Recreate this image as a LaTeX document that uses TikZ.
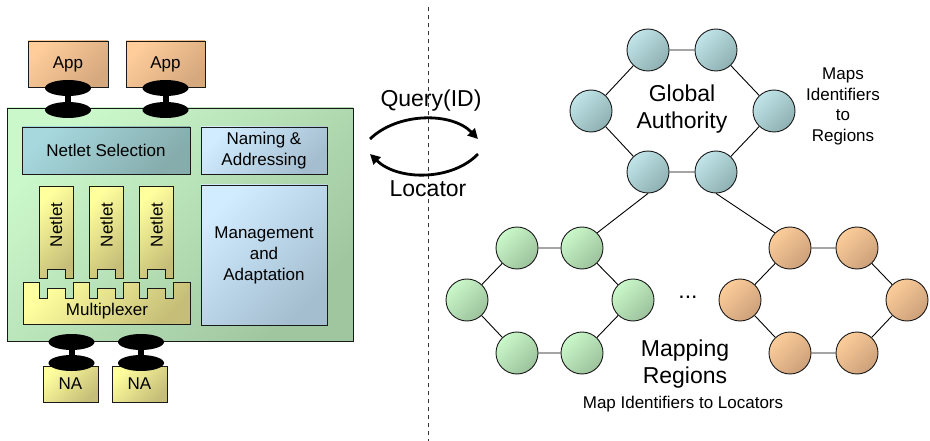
\documentclass[tikz,border=0pt]{standalone}
\usepackage{fontspec}
\setmainfont{Liberation Sans}
\usetikzlibrary{arrows.meta}

\newcommand\fsmall{\fontsize{17}{21}\selectfont}
\newcommand\fmaps{\fontsize{17}{20.7}\selectfont}
\newcommand\fbig{\fontsize{23}{27}\selectfont}

% gradient fills (light top-left, dark bottom-right)
\definecolor{appA}{HTML}{FECD9A}\definecolor{appB}{HTML}{D6A87E}
\definecolor{grnA}{HTML}{CBF8CB}\definecolor{grnB}{HTML}{A0C6A0}
\definecolor{selA}{HTML}{A6D8DE}\definecolor{selB}{HTML}{86ACAC}
\definecolor{bluA}{HTML}{D0ECFE}\definecolor{bluB}{HTML}{A4BED0}
\definecolor{yelA}{HTML}{FFFF9E}\definecolor{yelB}{HTML}{C6BE78}
\definecolor{gaA}{HTML}{C0E4E8}\definecolor{gaB}{HTML}{8EB0B2}
\definecolor{gcA}{HTML}{CAF8CA}\definecolor{gcB}{HTML}{9CC29C}
\definecolor{ocA}{HTML}{FCCD9A}\definecolor{ocB}{HTML}{CCA07A}

\begin{document}
\begin{tikzpicture}[x=1pt,y=-1pt,
  grad/.style 2 args={draw=black!90,line width=0.9pt,
    top color=#1,bottom color=#2,shading angle=45},
  box/.style 2 args={grad={#1}{#2},rectangle,inner sep=0pt,
    align=center,font=\fsmall},
  ring/.style 2 args={grad={#1}{#2},circle,minimum size=42pt,inner sep=0pt},
  link/.style={draw=black,line width=0.9pt},
  flow/.style={line width=2.8pt,-{Triangle[length=10pt,width=10pt]}},
  lbl/.style={align=center,inner sep=0pt},
]
\useasboundingbox (0,0) rectangle (930,441);

% ---------------- node architecture (left) ----------------
\node[box={appA}{appB},minimum width=80pt,minimum height=46pt] (app1) at (68,64) {App};
\node[box={appA}{appB},minimum width=79pt,minimum height=46pt] (app2) at (165.5,64) {App};

\node[box={grnA}{grnB},minimum width=346pt,minimum height=233pt] (node) at (180,224.5) {};

\node[box={selA}{selB},minimum width=168pt,minimum height=47pt] (sel) at (106,150.5) {Netlet Selection};
\node[box={bluA}{bluB},minimum width=126pt,minimum height=47pt] (naming) at (264,150.5) {Naming \&\\Addressing};
\node[box={bluA}{bluB},minimum width=126pt,minimum height=140pt] (mgmt) at (264,255) {Management\\and\\Adaptation};

% netlets with a notch at the bottom
\foreach \L/\n in {39/1,89.5/2,139.5/3}{
  \path[grad={yelA}{yelB}] (\L,186) -- (\L+34,186) -- (\L+34,278) -- (\L+26,278)
    -- (\L+26,269) -- (\L+8,269) -- (\L+8,278) -- (\L,278) -- cycle;
  \node[lbl,rotate=90,font=\fsmall] (netlet\n) at (\L+17,225) {Netlet};
}

% multiplexer with one socket per netlet
\path[grad={yelA}{yelB}] (23,282)
  \foreach \L in {39,89.5,139.5}{
    -- (\L,282) -- (\L,298) -- (\L+8,298) -- (\L+8,288) -- (\L+26,288)
    -- (\L+26,298) -- (\L+34,298) -- (\L+34,282) }
  -- (190,282) -- (190,324) -- (23,324) -- cycle;
\node[lbl,font=\fsmall] (mux) at (107,311) {Multiplexer};

\node[box={yelA}{yelB},minimum width=55pt,minimum height=36pt] (na1) at (70.5,384) {NA};
\node[box={yelA}{yelB},minimum width=55pt,minimum height=36pt] (na2) at (139.5,384) {NA};

% plugs between the layers
\foreach \cx/\ya/\yb in {68/88/110,165.5/88/110,71.5/342/363,141/342/363}{
  \fill[black] (\cx-3,\ya) rectangle (\cx+3,\yb);
  \fill[black] (\cx,\ya) ellipse [x radius=23pt,y radius=8pt];
  \fill[black] (\cx,\yb) ellipse [x radius=23pt,y radius=8pt];
}

% ---------------- separator and query exchange ----------------
\coordinate (sepT) at (428,7);
\coordinate (sepB) at (428,441);
\draw[black!80,line width=0.9pt,dash pattern=on 4pt off 4pt] (sepT) -- (sepB);

\coordinate (qL) at (370,139);
\coordinate (qR) at (478,139);
\coordinate (lR) at (478,154);
\coordinate (lL) at (370,154);
\draw[flow] (qL) .. controls (398,112) and (452,112) .. (qR);
\draw[flow] (lR) .. controls (452,181) and (398,181) .. (lL);
\node[lbl,font=\fbig] (query) at (431,101) {Query(ID)};
\node[lbl,font=\fbig] (locator) at (428,189) {Locator};

% ---------------- global authority ring ----------------
\node[ring={gaA}{gaB}] (gatl) at (648,50) {};
\node[ring={gaA}{gaB}] (gatr) at (716,50) {};
\node[ring={gaA}{gaB}] (gal)  at (591,111) {};
\node[ring={gaA}{gaB}] (gar)  at (774,111) {};
\node[ring={gaA}{gaB}] (gabl) at (648,172) {};
\node[ring={gaA}{gaB}] (gabr) at (716,172) {};
\draw[link] (gatl) -- (gatr) -- (gar) -- (gabr) -- (gabl) -- (gal) -- (gatl);
\node[lbl,font=\fbig] (gatext) at (682,109) {Global\\Authority};
\node[lbl,font=\fmaps] (gamaps) at (843,106.5) {Maps\\Identifiers\\to\\Regions};

% ---------------- mapping regions ----------------
\node[ring={gcA}{gcB}] (gtl) at (517,248) {};
\node[ring={gcA}{gcB}] (gtr) at (582,248) {};
\node[ring={gcA}{gcB}] (gl)  at (467,300) {};
\node[ring={gcA}{gcB}] (gr)  at (633,300) {};
\node[ring={gcA}{gcB}] (gbl) at (517,353) {};
\node[ring={gcA}{gcB}] (gbr) at (582,353) {};
\draw[link] (gtl) -- (gtr) -- (gr) -- (gbr) -- (gbl) -- (gl) -- (gtl);

\node[ring={ocA}{ocB}] (otl) at (790,248) {};
\node[ring={ocA}{ocB}] (otr) at (857,248) {};
\node[ring={ocA}{ocB}] (ol)  at (740,300) {};
\node[ring={ocA}{ocB}] (or)  at (907,300) {};
\node[ring={ocA}{ocB}] (obl) at (790,353) {};
\node[ring={ocA}{ocB}] (obr) at (857,353) {};
\draw[link] (otl) -- (otr) -- (or) -- (obr) -- (obl) -- (ol) -- (otl);

\draw[link] (gabl.south) -- (gtr.north east);
\draw[link] (gabr.south) -- (otl.north west);

\node[lbl,font=\fbig] (dots) at (688,297) {...};
\node[lbl,font=\fbig] (mapping) at (685,364) {Mapping\\Regions};
\node[lbl,font=\fsmall] (maploc) at (683,404) {Map Identifiers to Locators};
\end{tikzpicture}
\end{document}
